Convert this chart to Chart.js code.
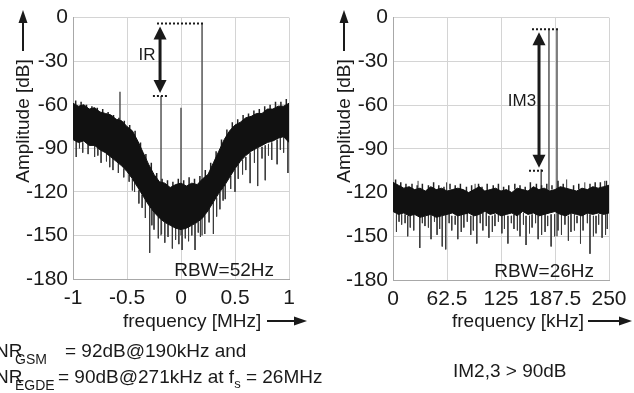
<!DOCTYPE html>
<html>
<head>
<meta charset="utf-8">
<script src="https://cdn.jsdelivr.net/npm/chart.js@4/dist/chart.umd.min.js"></script>
<style>
html, body { margin: 0; padding: 0; background: #fff; }
#wrap { position: relative; width: 634px; height: 393px; overflow: hidden; font-family: "Liberation Sans", Arial, sans-serif; color: #1a1a1a; }
canvas { position: absolute; left: 0; top: 0; }
.note { position: absolute; font-size: 19px; line-height: 1; white-space: nowrap; }
.sub { position: absolute; font-size: 14px; line-height: 1; white-space: nowrap; }
</style>
</head>
<body>
<div id="wrap">
  <canvas id="left" width="634" height="393"></canvas>
  <canvas id="right" width="634" height="393"></canvas>
  <span class="note" style="left:-5px;top:341px">NR</span>
  <span class="sub" style="left:15px;top:352px">GSM</span>
  <span class="note" style="left:65px;top:341px">= 92dB@190kHz and</span>
  <span class="note" style="left:-5px;top:367px">NR</span>
  <span class="sub" style="left:15px;top:378px">EGDE</span>
  <span class="note" style="left:58px;top:367px">= 90dB@271kHz at f<span style="font-size:13px;position:relative;top:5px">s</span> = 26MHz</span>
  <span class="note" style="left:453px;top:361px">IM2,3 &gt; 90dB</span>
</div>
<script>
// ---- left plot: image-reject spectrum, frequency in MHz ----
var leftFreq = [-1, -0.95, -0.9, -0.85, -0.8, -0.75, -0.7, -0.65, -0.6, -0.55, -0.5, -0.45, -0.4, -0.35, -0.3, -0.25, -0.2, -0.15, -0.1, -0.05, 0,
                0.05, 0.1, 0.15, 0.2, 0.25, 0.3, 0.35, 0.4, 0.45, 0.5, 0.55, 0.6, 0.65, 0.7, 0.75, 0.8, 0.85, 0.9, 0.95, 1];
var leftUpper = [-59, -61, -60, -63, -62, -65, -66, -67, -70, -71, -75, -78, -85, -93, -101, -108, -113, -114, -117, -115, -114,
                 -116, -114, -115, -111, -108, -100, -92, -84, -78, -74, -72, -69, -68, -66, -66, -63, -63, -61, -61, -59];
var leftLower = [-84, -86, -85, -88, -88, -91, -93, -96, -99, -102, -106, -111, -117, -123, -129, -134, -138, -141, -143, -145, -146,
                 -145, -143, -141, -138, -133, -127, -121, -116, -110, -104, -99, -95, -92, -90, -88, -86, -85, -83, -82, -86];
// [freq, from dB, to dB]
var leftSpikes = [[-0.97, -84, -96], [-0.94, -85, -90], [-0.91, -86, -93], [-0.86, -87, -94], [-0.8, -88, -96], [-0.77, -89, -95],
                  [-0.74, -90, -100], [-0.69, -93, -99], [-0.66, -95, -103], [-0.63, -97, -105], [-0.58, -100, -107], [-0.53, -104, -110],
                  [-0.48, -108, -113], [-0.45, -111, -119], [-0.43, -113, -120], [-0.39, -119, -128], [-0.36, -122, -131], [-0.33, -125, -138],
                  [-0.29, -130, -162], [-0.27, -132, -143], [-0.25, -134, -146], [-0.21, -137, -152], [-0.18, -139, -149], [-0.15, -141, -155],
                  [-0.12, -142, -151], [-0.08, -143, -159], [-0.05, -144, -153], [-0.02, -145, -156], [0.01, -146, -160], [0.04, -145, -152],
                  [0.07, -144, -154], [0.1, -143, -150], [0.13, -142, -160], [0.16, -141, -148], [0.18, -139, -151], [0.22, -136, -149],
                  [0.26, -131, -141], [0.3, -127, -149], [0.33, -124, -137], [0.36, -120, -132], [0.39, -117, -126], [0.41, -115, -125],
                  [0.46, -109, -118], [0.5, -104, -120], [0.53, -101, -111], [0.57, -98, -108], [0.6, -96, -105], [0.64, -93, -114],
                  [0.68, -91, -100], [0.71, -90, -116], [0.75, -89, -97], [0.78, -88, -112], [0.81, -87, -95], [0.84, -86, -98],
                  [0.89, -84, -101], [0.92, -83, -91], [0.95, -82, -93], [0.99, -84, -107]];
// short bumps on the upper edge of the noise band
var leftFuzz = [[-0.975, -62, -57], [-0.925, -62, -58], [-0.875, -64, -60], [-0.825, -64, -61], [-0.775, -66, -62], [-0.725, -67, -63],
                [-0.675, -69, -65], [-0.625, -71, -67], [-0.575, -73, -69], [-0.525, -75, -71], [-0.475, -79, -74], [-0.425, -83, -78],
                [-0.375, -91, -86], [-0.325, -98, -94], [-0.275, -106, -100], [-0.225, -112, -107], [-0.175, -116, -111], [-0.125, -117, -112],
                [-0.075, -117, -113], [-0.025, -116, -111], [0.025, -116, -112], [0.075, -116, -110], [0.125, -115, -111], [0.175, -114, -109],
                [0.225, -111, -105], [0.275, -105, -100], [0.325, -97, -92], [0.375, -89, -84], [0.425, -82, -77], [0.475, -77, -72],
                [0.525, -74, -70], [0.575, -71, -67], [0.625, -70, -66], [0.675, -68, -64], [0.725, -67, -63], [0.775, -65, -61],
                [0.825, -64, -60], [0.875, -63, -58], [0.925, -62, -58], [0.975, -61, -56]];
var leftTones = [[-0.565, -100, -51], [-0.185, -150, -54], [0, -150, -62], [0.195, -150, -4]];
var leftDotted = [[-0.222, 0.204, -4], [-0.26, -0.12, -54]];   // [from, to, dB]
var leftArrow = [-0.194, -4, -54];
var leftXTicks = [-1, -0.5, 0, 0.5, 1];

// ---- right plot: two-tone test, frequency in kHz ----
var rightFreq = [0, 6.25, 12.5, 18.75, 25, 31.25, 37.5, 43.75, 50, 56.25, 62.5, 68.75, 75, 81.25, 87.5, 93.75, 100, 106.25, 112.5, 118.75, 125,
                 131.25, 137.5, 143.75, 150, 156.25, 162.5, 168.75, 175, 181.25, 187.5, 193.75, 200, 206.25, 212.5, 218.75, 225, 231.25, 237.5, 243.75, 250];
var rightUpper = [-113, -115, -117, -116, -118, -117, -119, -116, -118, -117, -119, -118, -117, -118, -120, -118, -116, -119, -118, -117, -119,
                  -118, -120, -117, -118, -119, -116, -118, -117, -119, -118, -116, -117, -118, -119, -117, -118, -116, -117, -116, -115];
var rightLower = [-133, -135, -134, -136, -135, -137, -136, -135, -137, -136, -135, -134, -136, -135, -134, -136, -135, -133, -135, -134, -136,
                  -135, -134, -136, -133, -135, -134, -136, -135, -134, -133, -135, -136, -134, -135, -136, -134, -135, -134, -135, -134];
var rightSpikes = [[4, -135, -147], [7, -134, -140], [10, -135, -142], [14, -135, -141], [17, -136, -150], [20, -136, -144], [24, -134, -146],
                   [29, -118, -112], [31, -135, -158], [34, -135, -141], [37, -136, -143], [41, -134, -144], [44, -135, -152], [48, -136, -140],
                   [51, -134, -149], [54, -135, -145], [57, -136, -157], [61, -135, -159], [62, -119, -113], [65, -134, -141], [68, -136, -146],
                   [72, -136, -142], [75, -134, -152], [79, -135, -147], [82, -135, -144], [86, -134, -140], [90, -136, -149], [93, -136, -146],
                   [95, -118, -114], [97, -135, -155], [101, -135, -141], [104, -134, -146], [108, -134, -143], [111, -136, -151],
                   [115, -136, -147], [118, -135, -143], [122, -135, -140], [126, -134, -148], [129, -134, -145], [133, -136, -155],
                   [137, -136, -141], [140, -135, -145], [144, -135, -146], [147, -134, -150], [151, -134, -142], [154, -136, -156],
                   [158, -136, -148], [161, -135, -144], [165, -135, -141], [168, -136, -152], [172, -134, -149], [176, -134, -147],
                   [179, -136, -143], [183, -135, -157], [187, -135, -150], [191, -134, -146], [195, -134, -149], [199, -135, -142],
                   [201, -118, -111], [203, -136, -153], [206, -134, -147], [210, -135, -146], [213, -136, -141], [217, -134, -155],
                   [220, -135, -146], [222, -118, -113], [225, -134, -141], [228, -135, -162], [232, -136, -150], [235, -136, -148],
                   [238, -135, -142], [242, -135, -151], [245, -117, -112], [246, -134, -149], [248, -134, -145]];
var rightFuzz = [[3, -115, -111], [9, -117, -113], [15, -118, -114], [22, -117, -114], [28, -118, -115], [34, -119, -114], [41, -118, -115],
                 [47, -118, -113], [53, -119, -115], [59, -119, -116], [66, -118, -114], [72, -118, -115], [78, -119, -114], [85, -120, -116],
                 [91, -119, -115], [99, -118, -114], [103, -119, -116], [109, -119, -114], [116, -118, -115], [122, -119, -114],
                 [128, -119, -116], [134, -120, -115], [141, -118, -114], [147, -119, -115], [153, -119, -116], [159, -118, -113],
                 [166, -118, -114], [172, -118, -115], [178, -119, -114], [184, -118, -115], [191, -117, -112], [197, -118, -114],
                 [209, -119, -115], [215, -118, -114], [228, -118, -114], [234, -117, -113], [240, -117, -113], [247, -116, -112]];
var rightTones = [[171.5, -125, -104], [180.5, -130, -8], [189.8, -150, -8]];
var rightDotted = [[160.9, 193.3, -8], [157.4, 174.8, -105]];
var rightArrow = [169, -8, -105];
var rightXTicks = [0, 62.5, 125, 187.5, 250];

var yTicks = [0, -30, -60, -90, -120, -150, -180];

var TICK_FONT = { family: '"Liberation Sans Narrow", "Liberation Sans", Arial, sans-serif', size: 21 };
var TEXT_FONT = '19px "Liberation Sans", Arial, sans-serif';
var INK = '#1a1a1a';

function vsegs(list) {
  var out = [];
  list.forEach(function (s) {
    out.push({ x: s[0], y: s[1] }, { x: s[0], y: s[2] }, { x: s[0], y: null });
  });
  return out;
}
function hsegs(list) {
  var out = [];
  list.forEach(function (s) {
    out.push({ x: s[0], y: s[2] }, { x: s[1], y: s[2] }, { x: s[1], y: null });
  });
  return out;
}
function pairs(xs, ys) {
  return xs.map(function (x, i) { return { x: x, y: ys[i] }; });
}

function head(ctx, x, y, dx, dy, len, half) {
  // tip at (x,y), pointing along (dx,dy)
  ctx.beginPath();
  ctx.moveTo(x, y);
  ctx.lineTo(x - dx * len - dy * half, y - dy * len + dx * half);
  ctx.lineTo(x - dx * len + dy * half, y - dy * len - dx * half);
  ctx.closePath();
  ctx.fill();
}

var decor = {
  id: 'decor',
  afterDraw: function (chart, args, o) {
    var ctx = chart.ctx, xs = chart.scales.x, ys = chart.scales.y, a = chart.chartArea;
    ctx.save();
    ctx.fillStyle = INK;
    ctx.strokeStyle = INK;
    ctx.font = TEXT_FONT;

    // y title with up arrow
    ctx.save();
    ctx.translate(o.yTitleX, 121);
    ctx.rotate(-Math.PI / 2);
    ctx.textAlign = 'center';
    ctx.textBaseline = 'middle';
    ctx.fillText('Amplitude [dB]', 0, 0);
    ctx.restore();
    ctx.lineWidth = 2;
    ctx.beginPath();
    ctx.moveTo(o.yTitleX - 1, 51);
    ctx.lineTo(o.yTitleX - 1, 20);
    ctx.stroke();
    head(ctx, o.yTitleX - 1, 10, 0, -1, 13, 4.5);

    // x title with right arrow
    ctx.textAlign = 'left';
    ctx.textBaseline = 'alphabetic';
    ctx.fillText(o.xTitle, o.xTitleLeft, 327);
    ctx.beginPath();
    ctx.moveTo(o.xArrow[0], 321);
    ctx.lineTo(o.xArrow[1] - 10, 321);
    ctx.stroke();
    head(ctx, o.xArrow[1], 321, 1, 0, 13, 4.5);

    // RBW note
    ctx.textAlign = 'right';
    ctx.fillText(o.rbw, a.right - 15, a.bottom - 3);

    // measurement arrow
    var ax = xs.getPixelForValue(o.arrow[0]);
    var y1 = ys.getPixelForValue(o.arrow[1]) + 3;
    var y2 = ys.getPixelForValue(o.arrow[2]) - 3;
    ctx.lineWidth = 3;
    ctx.beginPath();
    ctx.moveTo(ax, y1 + 10);
    ctx.lineTo(ax, y2 - 10);
    ctx.stroke();
    head(ctx, ax, y1, 0, -1, 13, 6.5);
    head(ctx, ax, y2, 0, 1, 13, 6.5);

    ctx.font = '17px "Liberation Sans", Arial, sans-serif';
    ctx.textAlign = 'center';
    ctx.textBaseline = 'middle';
    ctx.fillText(o.label[0], xs.getPixelForValue(o.label[1]), ys.getPixelForValue(o.label[2]));
    ctx.restore();
  }
};

function makeChart(id, d) {
  return new Chart(document.getElementById(id), {
    type: 'line',
    data: {
      datasets: [
        { data: hsegs(d.dotted), borderColor: INK, borderWidth: 2, borderDash: [2, 2] },
        { data: pairs(d.freq, d.upper), borderColor: '#111', backgroundColor: '#111', borderWidth: 1, fill: '+1' },
        { data: pairs(d.freq, d.lower), borderColor: '#111', borderWidth: 1, fill: false },
        { data: vsegs(d.spikes), borderColor: '#3c3c3c', borderWidth: 1 },
        { data: vsegs(d.fuzz), borderColor: '#222', borderWidth: 1.5 },
        { data: vsegs(d.tones), borderColor: '#555', borderWidth: 1.5 }
      ]
    },
    options: {
      responsive: false,
      animation: false,
      spanGaps: false,
      elements: { point: { radius: 0 }, line: { tension: 0 } },
      layout: { padding: d.padding },
      plugins: { legend: { display: false }, tooltip: { enabled: false }, decor: d.decor },
      scales: {
        x: {
          type: 'linear', min: d.xTicks[0], max: d.xTicks[d.xTicks.length - 1],
          afterBuildTicks: function (s) { s.ticks = d.xTicks.map(function (v) { return { value: v }; }); },
          afterFit: function (s) { s.height = d.xHeight; },
          grid: { color: '#d4d4d4', drawTicks: false },
          border: { color: '#a8a8a8' },
          ticks: { font: TICK_FONT, color: INK, padding: 7, maxRotation: 0, autoSkip: false,
                   callback: function (v) { return String(v); } }
        },
        y: {
          min: -180, max: 0,
          afterBuildTicks: function (s) { s.ticks = yTicks.map(function (v) { return { value: v }; }); },
          afterFit: function (s) { s.width = 73; },
          grid: { color: '#d4d4d4', drawTicks: false },
          border: { color: '#a8a8a8' },
          ticks: { font: TICK_FONT, color: INK, padding: 5, callback: function (v) { return String(v); } }
        }
      }
    },
    plugins: [decor]
  });
}

makeChart('left', {
  freq: leftFreq, upper: leftUpper, lower: leftLower, spikes: leftSpikes, fuzz: leftFuzz, tones: leftTones, dotted: leftDotted,
  xTicks: leftXTicks, xHeight: 114,
  padding: { left: 0, right: 345, top: 13, bottom: 0 },
  decor: { yTitleX: 24, xTitle: 'frequency [MHz]', xTitleLeft: 123, xArrow: [267, 307], rbw: 'RBW=52Hz',
           arrow: leftArrow, label: ['IR', -0.315, -26] }
});

makeChart('right', {
  freq: rightFreq, upper: rightUpper, lower: rightLower, spikes: rightSpikes, fuzz: rightFuzz, tones: rightTones, dotted: rightDotted,
  xTicks: rightXTicks, xHeight: 113,
  padding: { left: 320, right: 25, top: 12, bottom: 0 },
  decor: { yTitleX: 345, xTitle: 'frequency [kHz]', xTitleLeft: 452, xArrow: [588, 632], rbw: 'RBW=26Hz',
           arrow: rightArrow, label: ['IM3', 149.3, -57.5] }
});
</script>
</body>
</html>
